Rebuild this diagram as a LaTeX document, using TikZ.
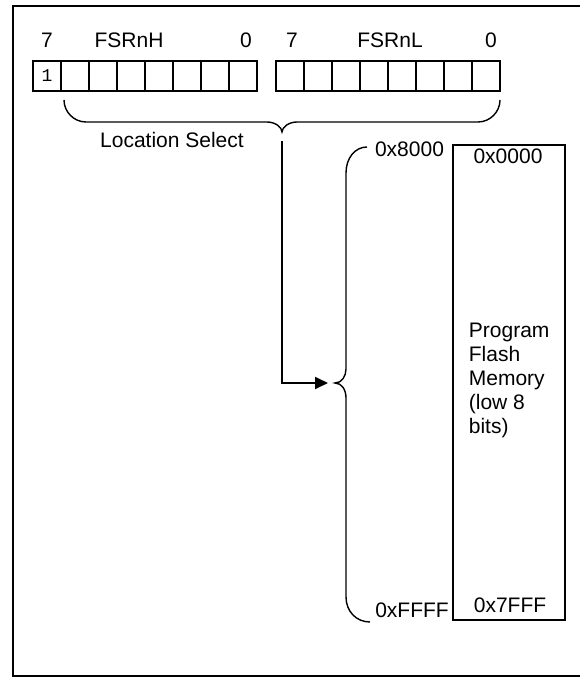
\documentclass[tikz,border=0pt]{standalone}
\usepackage{fontspec}
\setmainfont{Liberation Sans}
\newfontfamily\monofont{Liberation Mono}
\usetikzlibrary{arrows.meta,calc}

\begin{document}
\begin{tikzpicture}[x=1pt, y=-1pt, line width=1.8pt,
    font=\fontsize{21}{24}\selectfont,
    regcell/.style={draw, minimum width=28pt, minimum height=30pt, inner sep=0pt}]
    % Picture area (580 x 677), y grows downwards
    \useasboundingbox (0,0) rectangle (580,677);

    % Outer frame, open at the right edge
    \draw[line width=2pt] (584,6) -- (13,6) -- (13,676) -- (584,676);

    % FSRnH and FSRnL registers, 8 cells each
    \foreach \k in {0,...,7} {
        \node[regcell] (h\k) at (47+28*\k, 76) {};
        \node[regcell] (l\k) at (290+28*\k, 76) {};
    }
    \node[font=\monofont\fontsize{18}{20}\selectfont] (bit) at (h0) {1};

    % Bit numbers and register names
    \node[anchor=base] (h7lbl) at (47,48) {7};
    \node[anchor=base] (hname) at (129,48) {FSRnH};
    \node[anchor=base] (h0lbl) at (246,48) {0};
    \node[anchor=base] (l7lbl) at (292,48) {7};
    \node[anchor=base] (lname) at (390,48) {FSRnL};
    \node[anchor=base] (l0lbl) at (491,48) {0};

    % Brace under the selected bits
    \draw[line width=1.4pt] (64,100) .. controls (64,112) and (74,122) .. (86,122)
        -- (267,122) .. controls (275,122) and (282,127) .. (282,132)
        .. controls (282,127) and (289,122) .. (297,122)
        -- (478,122) .. controls (490,122) and (500,112) .. (500,100);
    \coordinate (selTip) at (282,141);
    \node[anchor=base] (select) at (172,147) {Location Select};

    % Program flash memory block
    \node[draw, minimum width=112pt, minimum height=475pt, inner sep=0pt] (flash) at (509,382.5) {};
    \node[anchor=base] (top) at (508,163) {0x0000};
    \node[anchor=base] (bottom) at (510,612) {0x7FFF};
    \node[anchor=base west, align=left, inner sep=0pt] (name) at (468,433)
        {Program\\Flash\\Memory\\(low 8\\bits)};

    % Brace in front of the memory block
    \draw[line width=1.4pt] (367,147) .. controls (355,147) and (346,158) .. (346,173)
        -- (346,369) .. controls (346,376) and (342,383) .. (335,383)
        .. controls (342,383) and (346,390) .. (346,398)
        -- (346,597) .. controls (346,611) and (356,622) .. (370,622);
    \coordinate (memTip) at (328,383);
    \node[anchor=base] (low) at (409.5,156) {0x8000};
    \node[anchor=base] (high) at (412,617) {0xFFFF};

    % Selection arrow
    \draw[-{Triangle[length=13pt,width=12pt]}] (selTip) |- (memTip);
\end{tikzpicture}
\end{document}
